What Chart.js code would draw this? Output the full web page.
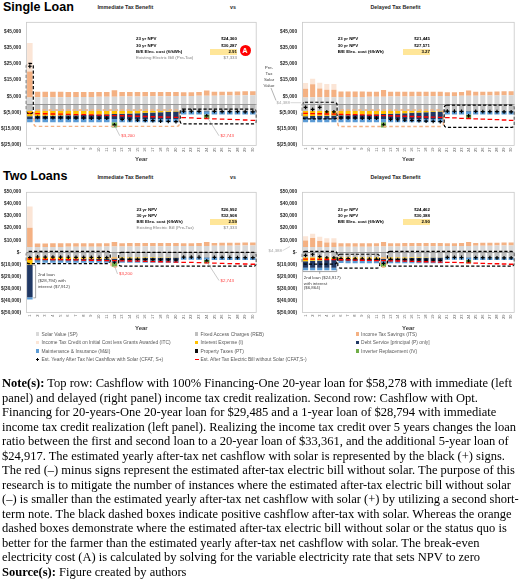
<!DOCTYPE html>
<html><head><meta charset="utf-8">
<script src="https://cdn.jsdelivr.net/npm/chart.js@4.4.1/dist/chart.umd.min.js"></script>
<style>
html,body{margin:0;padding:0;background:#fff;width:520px;height:584px;overflow:hidden;}
body{position:relative;font-family:"Liberation Sans",Arial,sans-serif;}
.a{position:absolute;white-space:nowrap;}
canvas{position:absolute;}
.big{font-weight:bold;font-size:12.5px;line-height:14px;color:#000;}
.sub{font-weight:bold;font-size:5.3px;line-height:5.3px;color:#262626;transform:translateX(-50%);}
.info{font-size:4.4px;line-height:4.4px;font-weight:bold;color:#000;}
.grey{color:#7f7f7f;font-weight:normal;}
.r{text-align:right;}
.yel{position:absolute;background:#FFE699;}
.ann{font-size:4.4px;line-height:4.4px;color:#404040;}
.leg{font-size:4.9px;line-height:5px;color:#595959;}
.sw{position:absolute;width:3.4px;height:3.4px;}
.notes{position:absolute;left:2px;top:376px;font-family:"Liberation Serif","Times New Roman",serif;font-size:12.5px;line-height:14.5px;color:#000;white-space:nowrap;}
</style></head><body>

<div class="a big" style="left:3px;top:0px;">Single Loan</div>
<div class="a sub" style="left:125.3px;top:4.7px;">Immediate Tax Benefit</div>
<div class="a sub" style="left:233px;top:4.7px;">vs</div>
<div class="a sub" style="left:395.5px;top:4.7px;">Delayed Tax Benefit</div>
<div class="a big" style="left:3px;top:169px;">Two Loans</div>
<div class="a sub" style="left:125.3px;top:175px;">Immediate Tax Benefit</div>
<div class="a sub" style="left:233px;top:175px;">vs</div>
<div class="a sub" style="left:395.5px;top:175px;">Delayed Tax Benefit</div>

<canvas id="cTL" width="262" height="150" style="left:0;top:14px;"></canvas>
<canvas id="cTR" width="258" height="150" style="left:262px;top:14px;"></canvas>
<canvas id="cBL" width="262" height="149" style="left:0;top:184px;"></canvas>
<canvas id="cBR" width="258" height="149" style="left:262px;top:184px;"></canvas>

<div id="infos"></div>
<div id="legend"></div>

<svg class="a" style="left:0;top:0;" width="520" height="584">
  <line x1="271" y1="88" x2="276" y2="100.5" stroke="#7f7f7f" stroke-width="0.6"/>
  <line x1="290.5" y1="102.7" x2="301" y2="102.7" stroke="#bfbfbf" stroke-width="0.6"/>
  <line x1="282.5" y1="250.7" x2="290" y2="246.5" stroke="#bfbfbf" stroke-width="0.6"/>
</svg>
<div class="a ann" style="left:263px;top:64.5px;line-height:6.1px;text-align:center;width:12px;white-space:normal;">Pre-<br>Tax<br>Solar<br>Value</div>
<div class="a ann" style="left:270px;top:100.5px;width:20px;text-align:right;color:#a6a6a6;">$4,388</div>
<div class="a ann" style="left:262px;top:248.5px;width:20px;text-align:right;color:#a6a6a6;">$4,388</div>

<div class="notes">
<div><b>Note(s):</b> Top row: Cashflow with 100% Financing-One 20-year loan for $58,278 with immediate (left</div>
<div>panel) and delayed (right panel) income tax credit realization. Second row: Cashflow with Opt.</div>
<div>Financing for 20-years-One 20-year loan for $29,485 and a 1-year loan of $28,794 with immediate</div>
<div>income tax credit realization (left panel). Realizing the income tax credit over 5 years changes the loan</div>
<div>ratio between the first and second loan to a 20-year loan of $33,361, and the additional 5-year loan of</div>
<div>$24,917. The estimated yearly after-tax net cashflow with solar is represented by the black (+) signs.</div>
<div>The red (–) minus signs represent the estimated after-tax electric bill without solar. The purpose of this</div>
<div>research is to mitigate the number of instances where the estimated after-tax electric bill without solar</div>
<div>(–) is smaller than the estimated yearly after-tax net cashflow with solar (+) by utilizing a second short-</div>
<div>term note. The black dashed boxes indicate positive cashflow after-tax with solar. Whereas the orange</div>
<div>dashed boxes demonstrate where the estimated after-tax electric bill without solar or the status quo is</div>
<div>better for the farmer than the estimated yearly after-tax net cashflow with solar. The break-even</div>
<div>electricity cost (A) is calculated by solving for the variable electricity rate that sets NPV to zero</div>
<div><b>Source(s):</b> Figure created by authors</div>
</div>

<script>
// ---------------- DATA ----------------
const years = ['1','2','3','4','5','6','7','8','9','10','11','12','13','14','15','16','17','18','19','20','21','22','23','24','25','26','27','28','29','30'];

const seriesNames = [
  'Solar Value (SP)', 'Fixed Access Charges (REB)', 'Income Tax Savings (ITS)',
  'Income Tax Credit on Initial Cost less Grants Awarded (ITC)', 'Interest Expense (I)', 'Debt Service [principal (P) only]',
  'Maintenance & Insurance (M&I)', 'Property Taxes (PT)', 'Inverter Replacement (IV)',
  'Est. Yearly After Tax Net Cashflow with Solar (CFAT, S+)', 'Est. After Tax Electric Bill without Solar (CFAT,S-)'
];

// common to all panels
const solarValue = [4388,4420,4460,4500,4540,4580,4620,4660,4700,4740,4790,4830,4870,4920,4960,5010,5050,5100,5150,5190,5240,5290,5340,5390,5440,5490,5540,5600,5650,5700];
const fixedAccess = [-4000,-4000,-4000,-4000,-4000,-4000,-4000,-4000,-4000,-4000,-4000,-4000,-4000,-4000,-4000,-4000,-4000,-4000,-4000,-4000,-4000,-4000,-4000,-4000,-4000,-4000,-4000,-4000,-4000,-4000];
const maintenance = [-1900,-1900,-1900,-1920,-1920,-1920,-1940,-1940,-1940,-1960,-1960,-1960,-1980,-1980,-1980,-2000,-2000,-2000,-2020,-2020,-2020,-2040,-2040,-2040,-2060,-2060,-2060,-2080,-2080,-2080];
const propertyTax = [-120,-120,-120,-120,-120,-120,-120,-120,-120,-120,-120,-120,-120,-120,-120,-120,-120,-120,-120,-120,-120,-120,-120,-120,-120,-120,-120,-120,-120,-120];
const inverter = [0,0,0,0,0,0,0,0,0,0,0,-3200,0,0,0,0,0,0,0,0,0,0,0,-2743,0,0,0,0,0,0];
const billNoSolar = [-5500,-5600,-5700,-5850,-5950,-6050,-6200,-6300,-6450,-6550,-6700,-6850,-6950,-7100,-7250,-7400,-7550,-7700,-7850,-8000,-8150,-8300,-8500,-8650,-8850,-9000,-9200,-9350,-9550,-9750];

// Single loan, immediate tax benefit
const itsSingleImm = [16000,3400,3350,3300,3250,3200,3150,3100,3050,3000,2950,3900,2850,2800,2750,2700,2650,2600,2550,2500,2300,2300,2350,3300,2350,2400,2400,2450,2450,2500];
const itcImm = [17483,0,0,0,0,0,0,0,0,0,0,0,0,0,0,0,0,0,0,0,0,0,0,0,0,0,0,0,0,0];
const interestSingle = [-3205,-3113,-3016,-2913,-2805,-2691,-2571,-2444,-2310,-2169,-2020,-1863,-1697,-1522,-1337,-1142,-937,-720,-491,-254,0,0,0,0,0,0,0,0,0,0];
const principalSingle = [-1672,-1764,-1861,-1964,-2072,-2186,-2306,-2433,-2567,-2708,-2857,-3014,-3180,-3355,-3540,-3735,-3940,-4157,-4386,-4623,0,0,0,0,0,0,0,0,0,0];
const cfatSingleImm = [23600,-8000,-8050,-8100,-8150,-8200,-8250,-8300,-8350,-8400,-8450,-12600,-9200,-9400,-9600,-9800,-10000,-10200,-10400,-10600,-4100,-4150,-4200,-7000,-4300,-4350,-4400,-4450,-4500,-4550];

// Single loan, delayed tax benefit
const itsSingleDel = [5400,8000,5400,4600,4600,3400,3350,3300,3250,3200,3150,4100,3050,3000,2950,2900,2850,2800,2750,2700,2300,2300,2350,3300,2350,2400,2400,2450,2450,2500];
const itcDel = [3497,3497,3497,3497,3497,0,0,0,0,0,0,0,0,0,0,0,0,0,0,0,0,0,0,0,0,0,0,0,0,0];
const cfatSingleDel = [-1800,-3000,-1800,-4500,-4500,-8200,-8250,-8300,-8350,-8400,-8450,-12500,-9200,-9400,-9600,-9800,-10000,-10200,-10400,-10600,-4100,-4150,-4200,-7000,-4300,-4350,-4400,-4450,-4500,-4550];

// Two loans, immediate tax benefit
const itsTwoImm = [16000,3000,2980,2960,2940,2920,2900,2880,2860,2840,2820,3800,2780,2760,2740,2720,2700,2680,2660,2640,2300,2300,2350,3300,2350,2400,2400,2450,2450,2500];
const interestTwoImm = [-6000,-1575,-1530,-1482,-1432,-1378,-1322,-1262,-1199,-1133,-1063,-988,-910,-828,-740,-648,-551,-448,-340,-225,0,0,0,0,0,0,0,0,0,0];
const principalTwoImm = [-26900,-892,-937,-985,-1035,-1089,-1145,-1205,-1268,-1334,-1404,-1479,-1557,-1639,-1727,-1819,-1916,-2019,-2127,-2242,0,0,0,0,0,0,0,0,0,0];
const cfatTwoImm = [-4300,-3800,-3850,-3900,-3950,-4000,-4050,-4100,-4150,-4200,-4250,-8000,-5600,-5700,-5800,-5900,-6000,-6100,-6200,-6300,-3900,-3950,-4000,-7000,-4100,-4150,-4200,-4250,-4300,-4350];

// Two loans, delayed tax benefit
const itsTwoDel = [5400,7400,4900,3600,3600,2900,2880,2860,2840,2820,2800,3780,2760,2740,2720,2700,2680,2660,2640,2620,2300,2300,2350,3300,2350,2400,2400,2450,2450,2500];
const interestTwoDel = [-3205,-2907,-2593,-2260,-1911,-1542,-1473,-1401,-1325,-1245,-1160,-1070,-976,-876,-771,-661,-545,-422,-292,-155,0,0,0,0,0,0,0,0,0,0];
const principalTwoDel = [-5422,-5720,-6035,-6367,-6716,-1250,-1319,-1391,-1468,-1548,-1634,-1723,-1818,-1918,-2023,-2134,-2252,-2375,-2506,-2644,0,0,0,0,0,0,0,0,0,0];
const cfatTwoDel = [-2500,-1500,-3500,-4500,-4500,-5100,-5200,-5300,-5400,-5500,-5600,-9000,-5800,-5900,-6000,-6100,-6200,-6300,-6400,-6500,-4100,-4150,-4200,-7100,-4300,-4350,-4400,-4450,-4500,-4550];

// tick labels
const ticksTop = [-25000,-15000,-5000,5000,15000,25000,35000,45000];
const ticksBottom = [-50000,-40000,-30000,-20000,-10000,0,10000,20000,30000,40000,50000];

// info box texts
const npvLabels = ['23 yr NPV','30 yr NPV','B/E Elec. cost (\u00A2/kWh)','Existing Electric Bill (Pre-Tax)'];
const npv23 = ['$24,360','$21,445','$26,992','$24,462'];
const npv30 = ['$30,287','$27,571','$32,908','$30,388'];
const breakEven = ['2.91','3.27','2.59','2.90'];
const existingBill = '$7,333';

// annotation regions (year ranges / dollar ranges)
const boxesTL = [{x0:0.55,x1:1.45,y0:25400,y1:-5600,k:'b'},{x0:1.55,x1:20.45,y0:-3400,y1:-13500,k:'o'},{x0:20.55,x1:30.45,y0:-2800,y1:-12000,k:'b'}];
const boxesTR = [{x0:0.55,x1:5.45,y0:1400,y1:-8900,k:'b'},{x0:5.55,x1:20.45,y0:-3400,y1:-13600,k:'o'},{x0:20.55,x1:30.45,y0:-400,y1:-14100,k:'b'}];
const boxesBL = [{x0:0.55,x1:11.45,y0:800,y1:-9300,k:'b'},{x0:11.55,x1:12.45,y0:-4500,y1:-12000,k:'o'},{x0:12.55,x1:30.45,y0:0,y1:-11400,k:'b'}];
const boxesBR = [{x0:0.55,x1:5.45,y0:800,y1:-9600,k:'b'},{x0:5.55,x1:11.45,y0:-1500,y1:-13000,k:'b'},{x0:11.55,x1:12.45,y0:-4500,y1:-12000,k:'o'},{x0:12.55,x1:30.45,y0:800,y1:-11400,k:'b'}];

// ---------------- STYLE ----------------
const FONT = '"Liberation Sans", Arial, sans-serif';
const C = {sp:'#D9D9D9', reb:'#BFBFBF', its:'#F4B183', itc:'#FBE5D6', int:'#FFC000', dsp:'#203864', mi:'#5B9BD5', pt:'#0D0D0D', iv:'#70AD47', plus:'#000000', minus:'#FF0000'};

function fmt(v){
  if (v === 0) return '$-';
  const s = Math.abs(v).toLocaleString('en-US');
  return v < 0 ? '$(' + s + ')' : '$' + s;
}

function bar(label, data, color){
  return {type:'bar', label, data, backgroundColor:color, borderWidth:0, stack:'bars', order:1, barPercentage:0.72, categoryPercentage:1};
}
function makeDatasets(its, itc, interest, principal, cfat){
  return [
    bar(seriesNames[0], solarValue, C.sp),
    bar(seriesNames[2], its, C.its),
    bar(seriesNames[3], itc, C.itc),
    bar(seriesNames[1], fixedAccess, C.reb),
    bar(seriesNames[4], interest, C.int),
    bar(seriesNames[5], principal, C.dsp),
    bar(seriesNames[7], propertyTax, C.pt),
    bar(seriesNames[6], maintenance, C.mi),
    bar(seriesNames[8], inverter, C.iv),
    {type:'line', label:seriesNames[10], data:billNoSolar, showLine:false, stack:'m', order:0,
     pointStyle:'line', pointRadius:2.3, borderColor:C.minus, backgroundColor:C.minus, pointBorderWidth:1.3, borderWidth:1.3},
    {type:'line', label:seriesNames[9], data:cfat, showLine:false, stack:'p', order:0,
     pointStyle:'cross', pointRadius:1.9, borderColor:C.plus, backgroundColor:C.plus, pointBorderWidth:1.2, borderWidth:1.2}
  ];
}

function X(chart, v){
  const x = chart.scales.x; const a = x.getPixelForValue(0), b = x.getPixelForValue(1);
  return a + (v - 1) * (b - a);
}
function Y(chart, v){ return chart.scales.y.getPixelForValue(v); }

const overlay = {
  id:'overlay',
  afterDatasetsDraw(chart, args, o){
    const ctx = chart.ctx, ca = chart.chartArea;
    ctx.save();
    ctx.strokeStyle = '#8c8c8c'; ctx.lineWidth = 0.9;
    ctx.beginPath(); ctx.moveTo(ca.left, Math.round(Y(chart,0))+0.5); ctx.lineTo(ca.right, Math.round(Y(chart,0))+0.5); ctx.stroke();
    (o.boxes||[]).forEach(b=>{
      const x0 = X(chart,b.x0), x1 = X(chart,b.x1), y0 = Y(chart,b.y0), y1 = Y(chart,b.y1);
      ctx.beginPath();
      if (b.k === 'b'){ ctx.strokeStyle = '#000'; ctx.lineWidth = 1.2; ctx.setLineDash([3.2,2]); }
      else { ctx.strokeStyle = '#F4B183'; ctx.lineWidth = 1.4; ctx.setLineDash([3.5,2.5]); }
      ctx.roundRect(x0, y0, x1-x0, y1-y0, 2.5);
      ctx.stroke();
    });
    ctx.setLineDash([]);
    (o.leaders||[]).forEach(l=>{
      ctx.strokeStyle = '#a6a6a6'; ctx.lineWidth = 0.6;
      ctx.beginPath(); ctx.moveTo(X(chart,l.x0), Y(chart,l.y0)); ctx.lineTo(X(chart,l.x1), Y(chart,l.y1)); ctx.stroke();
      ctx.fillStyle = '#FF4040'; ctx.font = '4.4px ' + FONT; ctx.textBaseline = 'middle'; ctx.textAlign = 'left';
      ctx.fillText(l.text, X(chart,l.x1)+1.5, Y(chart,l.y1));
    });
    (o.brackets||[]).forEach(b=>{
      ctx.strokeStyle = '#7f7f7f'; ctx.lineWidth = 0.7; ctx.beginPath();
      if (b.dir === 'v'){
        const x = X(chart,b.at), xa = X(chart,b.at-0.3);
        ctx.moveTo(xa, Y(chart,b.from)); ctx.lineTo(x, Y(chart,b.from)); ctx.lineTo(x, Y(chart,b.to)); ctx.lineTo(xa, Y(chart,b.to));
      } else {
        const y = Y(chart,b.at), ya = Y(chart,b.at+2300), yc = Y(chart,b.at-1800);
        ctx.moveTo(X(chart,b.from), ya); ctx.lineTo(X(chart,b.from), y); ctx.lineTo(X(chart,b.to), y); ctx.lineTo(X(chart,b.to), ya);
        const m = (X(chart,b.from)+X(chart,b.to))/2; ctx.moveTo(m, y); ctx.lineTo(m, yc);
      }
      ctx.stroke();
      ctx.fillStyle = '#404040'; ctx.font = '4.4px ' + FONT; ctx.textBaseline = 'middle'; ctx.textAlign = 'left';
      b.lines.forEach((t,i)=> ctx.fillText(t, X(chart,b.tx), Y(chart,b.ty[i])));
    });
    ctx.strokeStyle = '#c8c8c8'; ctx.lineWidth = 0.8;
    ctx.strokeRect(ca.left+0.5, ca.top+0.5, ca.right-ca.left-1, ca.bottom-ca.top-1);
    ctx.restore();
  }
};

function makeChart(id, datasets, cfg){
  return new Chart(document.getElementById(id), {
    data:{labels:years, datasets},
    plugins:[overlay],
    options:{
      responsive:false, animation:false, events:[],
      layout:{padding:{top:cfg.padTop, right:cfg.padRight, left:0, bottom:0}},
      plugins:{legend:{display:false}, tooltip:{enabled:false}, overlay:cfg.overlay},
      scales:{
        x:{stacked:true, grid:{display:false, drawTicks:false}, border:{display:false},
           ticks:{font:{size:4, family:FONT}, color:'#595959', minRotation:90, maxRotation:90, autoSkip:false, padding:1.5},
           title:{display:true, text:'Year', font:{size:6, weight:'bold', family:FONT}, color:'#404040', padding:{top:0, bottom:1}},
           afterFit:s=>{ s.height = cfg.xH; }},
        y:{stacked:true, min:cfg.min, max:cfg.max, grid:{display:false, drawTicks:false}, border:{display:false},
           ticks:{font:{size:4.7, weight:'bold', family:FONT}, color:'#262626', padding:5, callback:(v)=>fmt(v), autoSkip:false},
           afterBuildTicks:s=>{ s.ticks = cfg.ticks.map(v=>({value:v})); },
           afterFit:s=>{ s.width = cfg.yW; }}
      }
    }
  });
}

makeChart('cTL', makeDatasets(itsSingleImm, itcImm, interestSingle, principalSingle, cfatSingleImm),
  {padTop:3, padRight:3, xH:18, yW:26, min:-25600, max:51000, ticks:ticksTop,
   overlay:{boxes:boxesTL, leaders:[{x0:12,y0:-12800,x1:12.7,y1:-19300,text:'$3,200'},{x0:24,y0:-7300,x1:25.6,y1:-19300,text:'$2,743'}]}});
makeChart('cTR', makeDatasets(itsSingleDel, itcDel, interestSingle, principalSingle, cfatSingleDel),
  {padTop:3, padRight:2, xH:18, yW:40, min:-25600, max:51000, ticks:ticksTop,
   overlay:{boxes:boxesTR}});
makeChart('cBL', makeDatasets(itsTwoImm, itcImm, interestTwoImm, principalTwoImm, cfatTwoImm),
  {padTop:4, padRight:3, xH:20, yW:26, min:-50000, max:50000, ticks:ticksBottom,
   overlay:{boxes:boxesBL, leaders:[{x0:12,y0:-10800,x1:12.4,y1:-17800,text:'$3,200'},{x0:24,y0:-7500,x1:25.6,y1:-23200,text:'$2,743'}],
   brackets:[{dir:'v', at:1.75, from:-10500, to:-37500, tx:2.05, ty:[-18600,-23400,-28200], lines:['2nd loan','($28,794) with','interest ($7,912)']}]}});
makeChart('cBR', makeDatasets(itsTwoDel, itcDel, interestTwoDel, principalTwoDel, cfatTwoDel),
  {padTop:4, padRight:2, xH:20, yW:40, min:-50000, max:50000, ticks:ticksBottom,
   overlay:{boxes:boxesBR,
   brackets:[{dir:'h', at:-15800, from:0.6, to:5.4, tx:0.75, ty:[-20700,-25500,-29500], lines:['2nd loan ($24,917)','with interest','($6,864)']}]}});

// ---------------- INFO BOXES ----------------
const infoPos = [
  {lx:136, vr:237, rows:[39.3,45.7,51.7,58.3], bill:true},
  {lx:337.7, vr:430, rows:[39.3,45.7,51.7], bill:false},
  {lx:136.5, vr:237, rows:[210,216,222.2,228.3], bill:true},
  {lx:337.7, vr:430, rows:[210,216,222], bill:false}
];
let html = '';
infoPos.forEach((p,i)=>{
  const vals = [npv23[i], npv30[i], breakEven[i]];
  html += `<div class="yel" style="left:${p.vr-27}px;top:${p.rows[2]-3}px;width:27px;height:6px;"></div>`;
  for (let r=0;r<3;r++){
    html += `<div class="a info" style="left:${p.lx}px;top:${p.rows[r]-2.2}px;">${npvLabels[r]}</div>`;
    html += `<div class="a info r" style="left:${p.vr-40}px;width:40px;top:${p.rows[r]-2.2}px;">${vals[r]}</div>`;
  }
  if (p.bill){
    html += `<div class="a info grey" style="left:${p.lx}px;top:${p.rows[3]-2.2}px;">${npvLabels[3]}</div>`;
    html += `<div class="a info grey r" style="left:${p.vr-40}px;width:40px;top:${p.rows[3]-2.2}px;">${existingBill}</div>`;
  }
});
html += `<div class="a" style="left:239.5px;top:44.5px;width:11px;height:11px;border-radius:50%;background:#FF0000;color:#fff;font-weight:bold;font-size:7px;line-height:11px;text-align:center;">A</div>`;
document.getElementById('infos').innerHTML = html;

// ---------------- LEGEND ----------------
const legendItems = [
  {n:0, col:0, row:0, c:C.sp}, {n:1, col:1, row:0, c:C.reb}, {n:2, col:2, row:0, c:C.its},
  {n:3, col:0, row:1, c:C.itc}, {n:4, col:1, row:1, c:C.int}, {n:5, col:2, row:1, c:C.dsp},
  {n:6, col:0, row:2, c:C.mi}, {n:7, col:1, row:2, c:C.pt}, {n:8, col:2, row:2, c:C.iv},
  {n:9, col:0, row:3, m:'plus'}, {n:10, col:1, row:3, m:'minus'}
];
const colX = [37.7, 196.7, 357.3], rowY = [334, 342.5, 351, 359.5];
let lg = '';
legendItems.forEach(it=>{
  const x = colX[it.col], y = rowY[it.row];
  if (it.m === 'plus'){
    lg += `<div class="a" style="left:${x-1.7}px;top:${y-0.5}px;width:3.4px;height:1px;background:#000;"></div>`;
    lg += `<div class="a" style="left:${x-0.5}px;top:${y-1.7}px;width:1px;height:3.4px;background:#000;"></div>`;
  } else if (it.m === 'minus'){
    lg += `<div class="a" style="left:${x-2}px;top:${y-0.6}px;width:4px;height:1.2px;background:#FF0000;"></div>`;
  } else {
    lg += `<div class="sw" style="left:${x-1.7}px;top:${y-1.7}px;background:${it.c};"></div>`;
  }
  lg += `<div class="a leg" style="left:${x+3.8}px;top:${y-2.5}px;">${seriesNames[it.n]}</div>`;
});
document.getElementById('legend').innerHTML = lg;
</script>
</body></html>
